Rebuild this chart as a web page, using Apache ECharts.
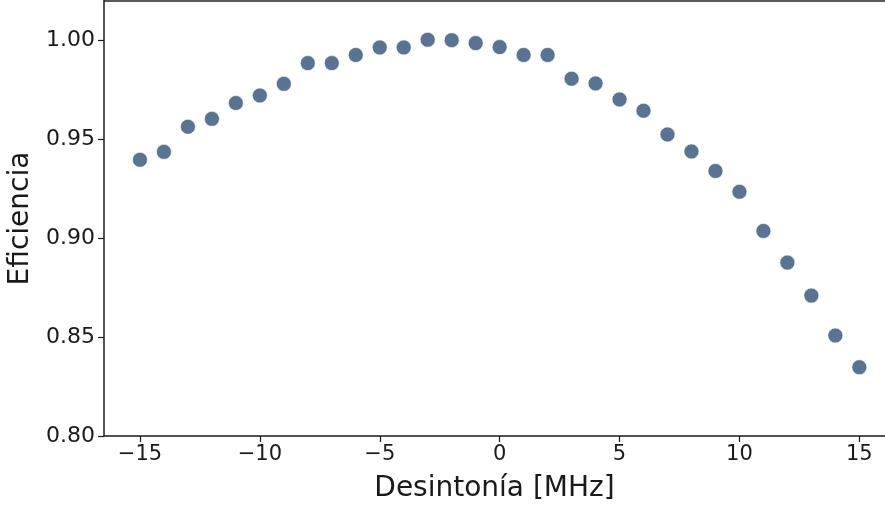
<!DOCTYPE html>
<html>
<head>
<meta charset="utf-8">
<script src="https://cdn.jsdelivr.net/npm/echarts@6/dist/echarts.min.js"></script>
<style>
html,body{margin:0;padding:0;background:#fff;}
#chart{width:885px;height:509px;}
</style>
</head>
<body>
<div id="chart"></div>
<script>
// Data
const detuning = [-15,-14,-13,-12,-11,-10,-9,-8,-7,-6,-5,-4,-3,-2,-1,0,1,2,3,4,5,6,7,8,9,10,11,12,13,14,15];
const efficiency = [0.9397,0.9437,0.9564,0.9604,0.9684,0.9722,0.9781,0.9886,0.9886,0.9927,0.9965,0.9965,1.0004,1.0002,0.9987,0.9967,0.9927,0.9927,0.9807,0.9783,0.9702,0.9645,0.9525,0.9439,0.9340,0.9235,0.9037,0.8877,0.8710,0.8508,0.8348];
const xTicks = [-15,-10,-5,0,5,10,15];
const yTicks = [0.80,0.85,0.90,0.95,1.00];
const xRange = [-16.5, 16.07];
const yRange = [0.80, 1.02];
const xLabel = 'Desintonía [MHz]';
const yLabel = 'Eficiencia';

const chart = echarts.init(document.getElementById('chart'));
const font = 'DejaVu Sans';
const ink = '#1a1a1a';
chart.setOption({
  animation: false,
  backgroundColor: '#fff',
  grid: {left: 104, top: 1, right: 0, height: 435, outerBoundsMode: 'none'},
  xAxis: [{
    type: 'value', min: xRange[0], max: xRange[1],
    name: xLabel, nameLocation: 'middle', nameGap: 39,
    nameTextStyle: {fontFamily: font, fontSize: 28, color: ink},
    axisLine: {show: true, onZero: false, lineStyle: {color: ink, width: 1.5}},
    axisTick: {show: true, length: 6, lineStyle: {color: ink, width: 1.2}, customValues: xTicks},
    axisLabel: {
      fontFamily: font, fontSize: 21, color: ink, margin: 8, customValues: xTicks,
      formatter: v => v < 0 ? '\u2212' + Math.abs(v) : String(v)
    },
    splitLine: {show: false}
  }, {
    type: 'value', min: xRange[0], max: xRange[1], position: 'top',
    axisLine: {show: true, onZero: false, lineStyle: {color: '#222', width: 1.5}},
    axisTick: {show: false}, axisLabel: {show: false}, splitLine: {show: false}
  }],
  yAxis: [{
    type: 'value', min: yRange[0], max: yRange[1],
    name: yLabel, nameLocation: 'middle', nameGap: 63, nameRotate: 90,
    nameTextStyle: {fontFamily: font, fontSize: 28, color: ink},
    axisLine: {show: true, onZero: false, lineStyle: {color: '#555', width: 2}},
    axisTick: {show: true, length: 6, lineStyle: {color: ink, width: 1.2}, customValues: yTicks},
    axisLabel: {
      fontFamily: font, fontSize: 22, color: ink, margin: 9, customValues: yTicks,
      formatter: v => v.toFixed(2)
    },
    splitLine: {show: false}
  }],
  series: [{
    type: 'scatter',
    data: detuning.map((x, i) => [x, efficiency[i]]),
    symbol: 'circle',
    symbolSize: 15,
    itemStyle: {color: '#5b7392', opacity: 1, borderColor: 'rgba(255,255,255,0.6)', borderWidth: 1}
  }]
});
</script>
</body>
</html>
